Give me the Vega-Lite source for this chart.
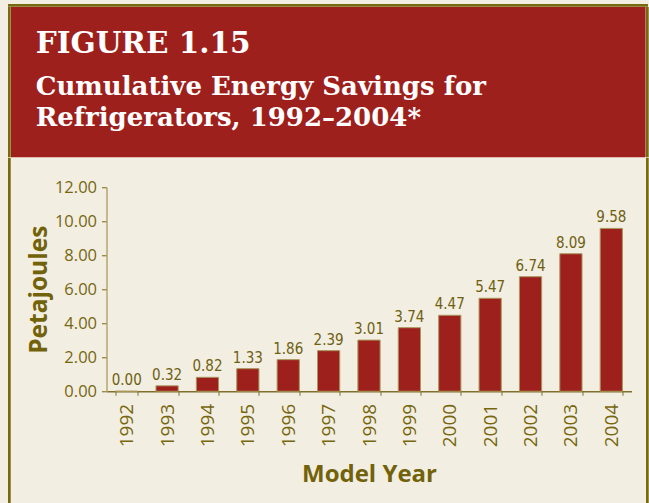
{
  "$schema": "https://vega.github.io/schema/vega-lite/v6.json",
  "background": "#F2EEE2",
  "padding": {"left": 8, "top": 4, "right": 0, "bottom": 0},
  "spacing": 0,
  "config": {
    "font": "Open Sans",
    "view": {"stroke": null},
    "title": {
      "font": "DejaVu Serif",
      "fontSize": 29.5,
      "fontWeight": "bold",
      "color": "#FFFFFF",
      "anchor": "start",
      "subtitleFont": "DejaVu Serif",
      "subtitleFontSize": 26,
      "subtitleFontWeight": "bold",
      "subtitleColor": "#FFFFFF",
      "subtitleLineHeight": 31,
      "subtitlePadding": 14
    }
  },
  "vconcat": [
    {
      "width": 640,
      "height": 2.7,
      "view": {"fill": "#786A10"},
      "data": {"values": []},
      "mark": {"type": "text"},
      "encoding": {"text": {"value": ""}}
    },
    {
      "spacing": 0,
      "hconcat": [
        {
          "width": 2.7,
          "height": 150.3,
          "view": {"fill": "#786A10"},
          "data": {"values": []},
          "mark": {"type": "text"},
          "encoding": {"text": {"value": ""}}
        },
        {
          "width": 634.6,
          "height": 150.3,
          "view": {"fill": "#9E201D"},
          "title": {
            "text": "FIGURE 1.15",
            "subtitle": ["Cumulative Energy Savings for", "Refrigerators, 1992–2004*"],
            "offset": -124.5,
            "dx": 24.7
          },
          "data": {"values": []},
          "mark": {"type": "text"},
          "encoding": {"text": {"value": ""}}
        },
        {
          "width": 2.7,
          "height": 150.3,
          "view": {"fill": "#786A10"},
          "data": {"values": []},
          "mark": {"type": "text"},
          "encoding": {"text": {"value": ""}}
        }
      ]
    },
    {
      "spacing": 14.5,
      "center": true,
      "hconcat": [
        {
          "width": 2.7,
          "height": 358,
          "view": {"fill": "#786A10"},
          "data": {"values": []},
          "mark": {"type": "text"},
          "encoding": {"text": {"value": ""}}
        },
        {
          "width": 525,
          "height": 204,
          "data": {
            "values": [
              {"year": "1992", "value": 0.00},
              {"year": "1993", "value": 0.32},
              {"year": "1994", "value": 0.82},
              {"year": "1995", "value": 1.33},
              {"year": "1996", "value": 1.86},
              {"year": "1997", "value": 2.39},
              {"year": "1998", "value": 3.01},
              {"year": "1999", "value": 3.74},
              {"year": "2000", "value": 4.47},
              {"year": "2001", "value": 5.47},
              {"year": "2002", "value": 6.74},
              {"year": "2003", "value": 8.09},
              {"year": "2004", "value": 9.58}
            ]
          },
          "encoding": {
            "x": {
              "field": "year",
              "type": "ordinal",
              "scale": {"paddingInner": 0.45, "paddingOuter": 0.225},
              "axis": {
                "title": "Model Year",
                "titleFont": "Open Sans",
                "titleFontSize": 24,
                "titleFontWeight": "bold",
                "titleColor": "#72620A",
                "titlePadding": 16,
                "labelAngle": -90,
                "labelFontSize": 19,
                "labelColor": "#76670F",
                "labelPadding": 8,
                "tickSize": 4,
                "tickBand": "extent",
                "tickColor": "#80702A",
                "domainColor": "#80702A",
                "domainWidth": 1.5
              }
            },
            "y": {
              "field": "value",
              "type": "quantitative",
              "scale": {"domain": [0, 12]},
              "axis": {
                "title": "Petajoules",
                "titleFontSize": 24.5,
                "titleFontWeight": "bold",
                "titleColor": "#72620A",
                "titlePadding": 3,
                "values": [0, 2, 4, 6, 8, 10, 12],
                "format": ".2f",
                "grid": false,
                "labelOverlap": false,
                "labelFontSize": 16.5,
                "labelColor": "#76670F",
                "labelPadding": 5,
                "tickSize": 5,
                "tickColor": "#7A6A14",
                "domainColor": "#B5A46C",
                "domainWidth": 1.5
              }
            }
          },
          "layer": [
            {
              "mark": {"type": "bar", "fill": "#9E201D", "stroke": "#A8975A", "strokeWidth": 1}
            },
            {
              "mark": {
                "type": "text",
                "baseline": "alphabetic",
                "dy": -6,
                "font": "Liberation Sans Narrow, DejaVu Sans Condensed, sans-serif",
                "fontSize": 15,
                "color": "#6E6010"
              },
              "encoding": {
                "text": {"field": "value", "type": "quantitative", "format": ".2f"}
              }
            }
          ]
        },
        {
          "width": 2.7,
          "height": 358,
          "view": {"fill": "#786A10"},
          "data": {"values": []},
          "mark": {"type": "text"},
          "encoding": {"text": {"value": ""}}
        }
      ]
    }
  ]
}
